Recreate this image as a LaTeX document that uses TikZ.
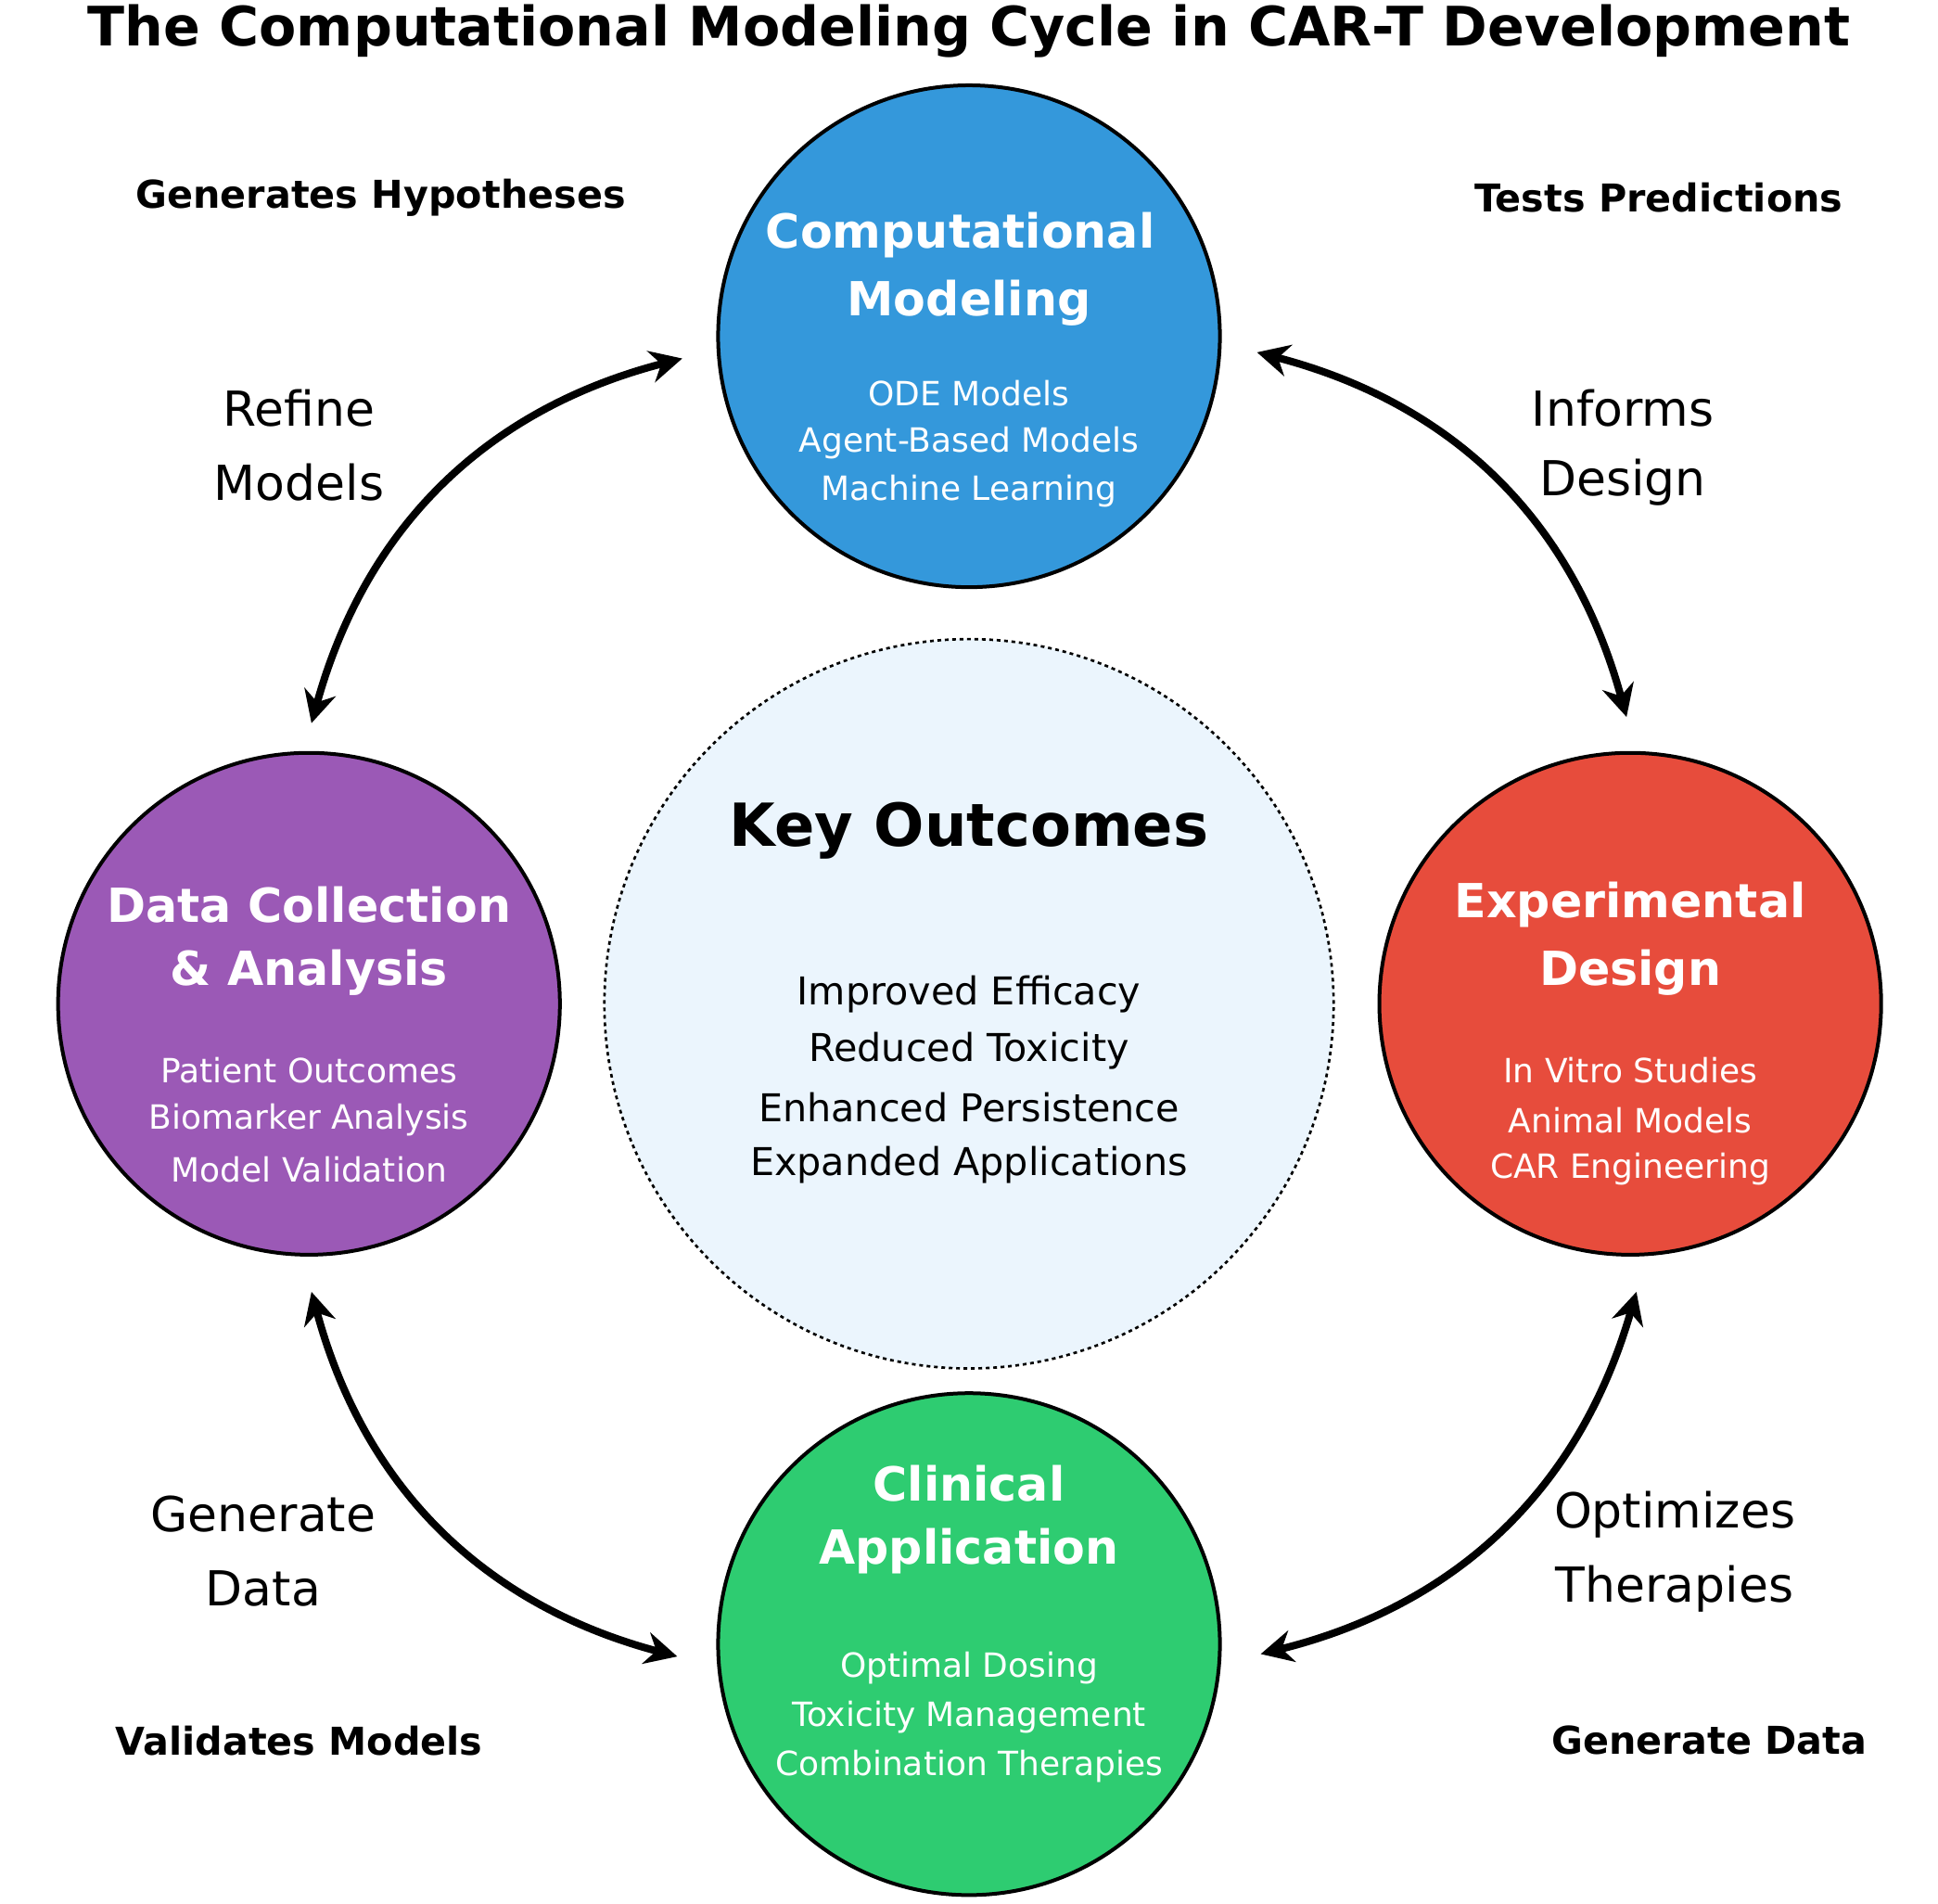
\documentclass[tikz,border=0pt]{standalone}
\usepackage{fontspec}
\setmainfont{DejaVu Sans}
\usetikzlibrary{arrows.meta}
\definecolor{cblue}{HTML}{3498DB}
\definecolor{cpurple}{HTML}{9B59B6}
\definecolor{cred}{HTML}{E74C3C}
\definecolor{cgreen}{HTML}{2ECC71}
\definecolor{clight}{HTML}{EBF5FD}
\newcommand{\fs}[1]{\fontsize{#1}{#1}\selectfont}
\begin{document}
\begin{tikzpicture}[x=1pt,y=-1pt,
  phase/.style={circle,draw=black,line width=3pt,minimum size=406pt,inner sep=0pt},
  ttl/.style={text=white,font=\fs{38}\bfseries},
  sub/.style={text=white,font=\fs{27}},
  lbl/.style={font=\fs{39},align=center},
  corner/.style={font=\fs{31}\bfseries},
  cyc/.style={line width=6pt,{Stealth[length=26pt,width=26pt]}-{Stealth[length=26pt,width=26pt]}}]
\useasboundingbox[fill=white] (0,0) rectangle (1568,1540);
\node[font=\fs{44}\bfseries] (title) at (784,25) {The Computational Modeling Cycle in CAR-T Development};
% central
\node[circle,draw=black,dashed,line width=2pt,fill=clight,minimum size=590pt] (key) at (784,812) {};
\node[font=\fs{48}\bfseries] (keyt) at (784,672) {Key Outcomes};
\node[font=\fs{31}] at (784,804) {Improved Efficacy};
\node[font=\fs{31}] at (784,850) {Reduced Toxicity};
\node[font=\fs{31}] at (784,896) {Enhanced Persistence};
\node[font=\fs{31}] at (784,942) {Expanded Applications};
% phases
\node[phase,fill=cblue] (comp) at (784,272) {};
\node[ttl] at (777,190) {Computational};
\node[ttl] at (784,245) {Modeling};
\node[sub] at (784,318) {ODE Models};
\node[sub] at (784,358) {Agent-Based Models};
\node[sub] at (784,397) {Machine Learning};
\node[phase,fill=cpurple] (data) at (250,812) {};
\node[ttl] at (250,732) {Data Collection};
\node[ttl] at (250,787) {\& Analysis};
\node[sub] at (250,866) {Patient Outcomes};
\node[sub] at (250,906) {Biomarker Analysis};
\node[sub] at (250,946) {Model Validation};
\node[phase,fill=cred] (exp) at (1319,812) {};
\node[ttl] at (1319,732) {Experimental};
\node[ttl] at (1319,787) {Design};
\node[sub] at (1319,866) {In Vitro Studies};
\node[sub] at (1319,906) {Animal Models};
\node[sub] at (1319,946) {CAR Engineering};
\node[phase,fill=cgreen] (clin) at (784,1330) {};
\node[ttl] at (784,1200) {Clinical};
\node[ttl] at (784,1255) {Application};
\node[sub] at (784,1349) {Optimal Dosing};
\node[sub] at (784,1389) {Toxicity Management};
\node[sub] at (784,1429) {Combination Therapies};
% arrow endpoints
\coordinate (a1) at (552,290); \coordinate (a2) at (252,585);
\coordinate (b1) at (1017,285); \coordinate (b2) at (1316,580);
\coordinate (c1) at (252,1045); \coordinate (c2) at (548,1340);
\coordinate (d1) at (1324,1045); \coordinate (d2) at (1020,1338);
\draw[cyc] (a1) to[bend right=30] (a2);
\draw[cyc] (b1) to[bend left=30] (b2);
\draw[cyc] (c1) to[bend right=30] (c2);
\draw[cyc] (d1) to[bend left=30] (d2);
% labels
\node[lbl] at (242,330) {Refine};
\node[lbl] at (242,390) {Models};
\node[lbl] at (1313,330) {Informs};
\node[lbl] at (1313,390) {Design};
\node[lbl] at (213,1225) {Generate};
\node[lbl] at (213,1285) {Data};
\node[lbl] at (1355,1225) {Optimizes};
\node[lbl] at (1355,1285) {Therapies};
\node[corner] at (308,160) {Generates Hypotheses};
\node[corner] at (1342,160) {Tests Predictions};
\node[corner] at (242,1408) {Validates Models};
\node[corner] at (1383,1408) {Generate Data};
\end{tikzpicture}
\end{document}
